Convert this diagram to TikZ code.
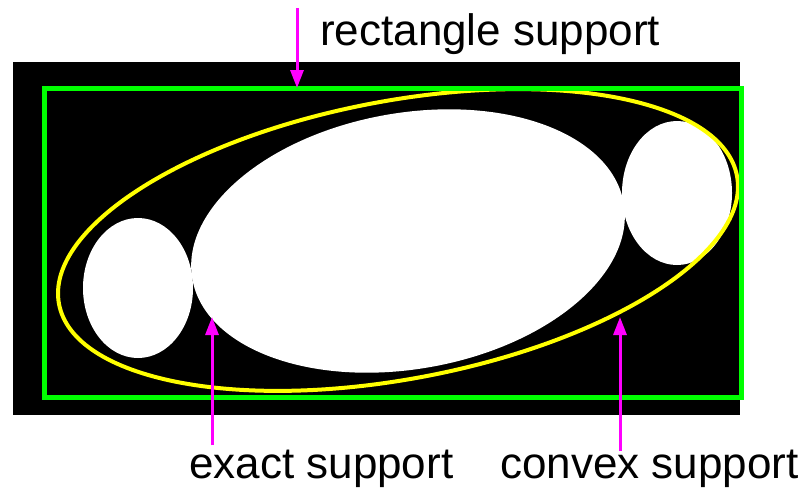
\documentclass[tikz,border=0pt]{standalone}
\usepackage{fontspec}
\setmainfont{Liberation Sans}
\usetikzlibrary{arrows.meta}
\definecolor{mygreen}{RGB}{0,255,0}
\definecolor{myyellow}{RGB}{255,255,0}
\definecolor{mymagenta}{RGB}{255,0,255}
\tikzset{
  blob/.style={fill=white},
  pointer/.style={draw=mymagenta, line width=3pt, -{Triangle[length=18pt,width=13pt]}},
  lbl/.style={inner sep=0pt, anchor=base west, font=\fontsize{44}{50}\selectfont, text=black}
}
\begin{document}
\begin{tikzpicture}[x=1pt,y=-1pt]
\useasboundingbox (0,0) rectangle (810,496);
% black background image
\fill[black] (13,62) rectangle (740,415);
% white blobs
\fill[blob] (138,288) ellipse (55pt and 70pt);
\fill[blob, rotate around={10:(408,241)}] (408,241) ellipse (219pt and 128pt);
\fill[blob] (677,193) ellipse (55pt and 72pt);
% convex support (yellow ellipse)
\draw[myyellow, line width=4pt, rotate around={10.7:(398,240)}] (398,240) ellipse (345pt and 139pt);
% rectangle support (green)
\draw[mygreen, line width=5pt] (44,88) rectangle (741,397);
% labels
\node[lbl] (rect) at (320,45) {rectangle support};
\node[lbl] (exact) at (189,478) {exact support};
\node[lbl] (convex) at (500,478) {convex support};
% arrow endpoints
\coordinate (rtail) at (297,8);
\coordinate (rtip) at (297,88);
\coordinate (etail) at (212,445);
\coordinate (etip) at (212,317);
\coordinate (ctail) at (620,451);
\coordinate (ctip) at (620,317);
\draw[pointer] (rtail) -- (rtip);
\draw[pointer] (etail) -- (etip);
\draw[pointer] (ctail) -- (ctip);
\end{tikzpicture}
\end{document}
